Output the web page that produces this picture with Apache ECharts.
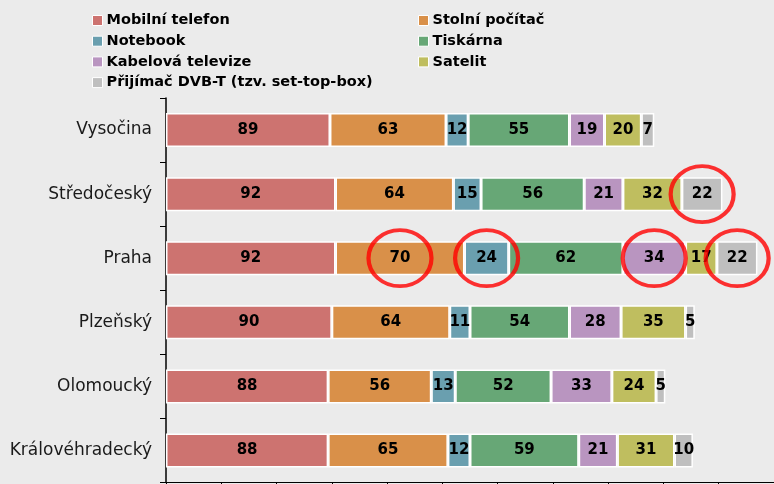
<!DOCTYPE html>
<html>
<head>
<meta charset="utf-8">
<script src="https://cdn.jsdelivr.net/npm/echarts@6/dist/echarts.min.js"></script>
<style>
html,body{margin:0;padding:0;background:#EBEBEB;}
#c{width:774px;height:484px;}
</style>
</head>
<body>
<div id="c"></div>
<script>
const categories = ['Vysočina', 'Středočeský', 'Praha', 'Plzeňský', 'Olomoucký', 'Královéhradecký'];
const seriesNames = ['Mobilní telefon', 'Stolní počítač', 'Notebook', 'Tiskárna', 'Kabelová televize', 'Satelit', 'Přijímač DVB-T (tzv. set-top-box)'];
const mobilni = [89, 92, 92, 90, 88, 88];
const stolni = [63, 64, 70, 64, 56, 65];
const notebook = [12, 15, 24, 11, 13, 12];
const tiskarna = [55, 56, 62, 54, 52, 59];
const kabelova = [19, 21, 34, 28, 33, 21];
const satelit = [20, 32, 17, 35, 24, 31];
const dvbt = [7, 22, 22, 5, 5, 10];
const colors = ['#CD7370', '#D99049', '#6A9FAF', '#67A776', '#B995C0', '#BFBE5F', '#BFBFBF'];
// highlighted segments: [category index, series index]
const highlights = [[1, 6], [2, 1], [2, 2], [2, 4], [2, 6]];

const values = [mobilni, stolni, notebook, tiskarna, kabelova, satelit, dvbt];

const barSeries = seriesNames.map((name, i) => ({
  name: name,
  type: 'bar',
  stack: 'total',
  barWidth: 34,
  data: values[i],
  itemStyle: { color: colors[i], borderColor: '#FFFFFF', borderWidth: 1.5 },
  label: {
    show: true,
    position: 'inside',
    color: '#000',
    fontFamily: 'DejaVu Sans',
    fontWeight: 'bold',
    fontSize: 15
  },
  emphasis: { disabled: true }
}));

const circleData = highlights.map(([ci, si]) => {
  let start = 0;
  for (let k = 0; k < si; k++) start += values[k][ci];
  return [start + values[si][ci] / 2, categories[ci]];
});

const circleSeries = {
  name: 'highlight',
  type: 'scatter',
  data: circleData,
  symbol: 'circle',
  symbolSize: [63, 56],
  itemStyle: { color: 'rgba(0,0,0,0)', borderColor: '#FF0000', borderWidth: 4 },
  z: 10,
  silent: true
};

const legendCommon = {
  orient: 'vertical',
  top: 8,
  itemWidth: 10,
  itemHeight: 10,
  itemGap: 5.7,
  icon: 'rect',
  itemStyle: { borderColor: '#fff', borderWidth: 1 },
  textStyle: { fontFamily: 'DejaVu Sans', fontWeight: 'bold', fontSize: 14.5, color: '#000', padding: [0, 0, 0, -1] },
  selectedMode: false
};

const chart = echarts.init(document.getElementById('c'));
chart.setOption({
  backgroundColor: '#EBEBEB',
  animation: false,
  color: colors,
  legend: [
    Object.assign({}, legendCommon, { left: 87, data: [seriesNames[0], seriesNames[2], seriesNames[4], seriesNames[6]] }),
    Object.assign({}, legendCommon, { left: 413, data: [seriesNames[1], seriesNames[3], seriesNames[5]] })
  ],
  grid: { left: 166, right: -6, top: 98, bottom: 1.5, containLabel: false },
  xAxis: {
    type: 'value',
    min: 0,
    max: 330,
    interval: 30,
    axisLine: { show: true, lineStyle: { color: '#000', width: 1 } },
    axisTick: { show: true, inside: false, length: 5, lineStyle: { color: '#000' } },
    axisLabel: { show: false },
    splitLine: { show: false }
  },
  yAxis: {
    type: 'category',
    inverse: true,
    data: categories,
    axisLine: { show: true, lineStyle: { color: '#000', width: 1.5 } },
    axisTick: { show: true, length: 6, lineStyle: { color: '#000' } },
    axisLabel: { fontFamily: 'DejaVu Sans', fontSize: 17, color: '#1a1a1a', margin: 14 }
  },
  series: barSeries.concat([circleSeries])
});
</script>
</body>
</html>
